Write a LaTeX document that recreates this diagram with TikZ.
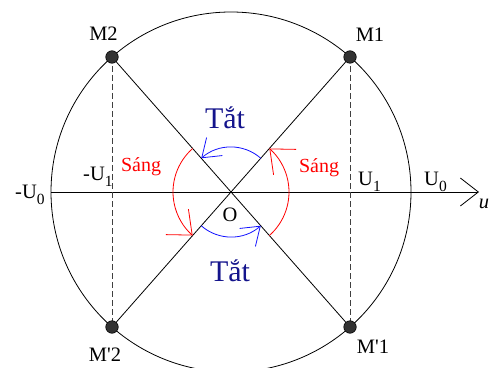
\documentclass[tikz,border=0pt]{standalone}
\usepackage{fontspec}
\setmainfont[Ligatures=TeXOff]{Liberation Serif}
\usetikzlibrary{arrows.meta,calc}
\newcommand{\lowsub}[1]{\raisebox{-0.32em}{\fontsize{15.5pt}{15.5pt}\selectfont #1}}
\definecolor{sangred}{RGB}{255,0,0}
\definecolor{arcblue}{RGB}{20,20,255}
\definecolor{tatblue}{RGB}{20,20,140}
\definecolor{dotgray}{RGB}{50,50,50}
\begin{document}
\begin{tikzpicture}[x=1pt,y=1pt,
  lbl/.style={font=\fontsize{20.5pt}{20.5pt}\selectfont, inner sep=0pt},
  thinline/.style={line width=0.8pt, black},
  dashline/.style={line width=0.8pt, black!75, dash pattern=on 6pt off 3pt},
  dotnode/.style={circle, draw=black, fill=dotgray, line width=0.6pt, minimum size=12.5pt, inner sep=0pt},
  redarc/.style={line width=0.8pt, sangred, -{Straight Barb[length=20pt,width=34pt,line width=0.8pt]}},
  bluearc/.style={line width=0.8pt, arcblue, -{Straight Barb[length=17pt,width=24pt,line width=0.8pt]}},
  sang/.style={font=\fontsize{20pt}{20pt}\selectfont, inner sep=0pt, text=sangred},
  tat/.style={font=\fontsize{30pt}{30pt}\selectfont, inner sep=0pt, text=tatblue}]
\useasboundingbox (0,0) rectangle (502,367);
\coordinate (O) at (231,175);
\coordinate (M1) at (350,310);
\coordinate (M2) at (112,310);
\coordinate (M1b) at (350,40);
\coordinate (M2b) at (112,40);
\coordinate (L) at (51,175);
\coordinate (R) at (479,175);
% circle
\begin{scope}
\clip (0,0) rectangle (502,367);
\draw[thinline] (O) circle[radius=180];
\end{scope}
% axis
\draw[thinline, -{Straight Barb[length=18pt,width=28pt,line width=0.8pt]}] (L) -- (R);
% diagonals
\draw[thinline] (M2) -- (M1b);
\draw[thinline] (M1) -- (M2b);
% dashed verticals
\draw[dashline] (M2) -- (M2b);
\draw[dashline] (M1) -- (M1b);
% dots
\node[dotnode] (dM1) at (M1) {};
\node[dotnode] (dM2) at (M2) {};
\node[dotnode] (dM1b) at (M1b) {};
\node[dotnode] (dM2b) at (M2b) {};
% arcs
\draw[redarc] ($(O)+(131.4:58)$) arc[start angle=131.4, end angle=228.6, radius=58];
\draw[redarc] ($(O)+(-48.6:58)$) arc[start angle=-48.6, end angle=48.6, radius=58];
\draw[bluearc] ($(O)+(48.6:45)$) arc[start angle=48.6, end angle=131.4, radius=45];
\draw[bluearc] ($(O)+(228.6:45)$) arc[start angle=228.6, end angle=311.4, radius=45];
% labels
\node[lbl] (tM2) at (103.5,333) {M2};
\node[lbl] (tM1) at (370,332) {M1};
\node[lbl] (tM2b) at (105,12) {M'2};
\node[lbl] (tM1b) at (373,20) {M'1};
\node[lbl, anchor=base west] (tU0m) at (15,169) {-U\lowsub{0}};
\node[lbl, anchor=base west] (tU1m) at (83,187) {-U\lowsub{1}};
\node[lbl, anchor=base west] (tU1) at (358,182) {U\lowsub{1}};
\node[lbl, anchor=base west] (tU0) at (424,182) {U\lowsub{0}};
\node[lbl] (tu) at (484,163) {\itshape u};
\node[lbl] (tO) at (230,152) {O};
\node[sang] (sL) at (141,200) {Sáng};
\node[sang] (sR) at (319,199) {Sáng};
\node[tat] (tT) at (225,249) {Tắt};
\node[tat] (tB) at (230,96) {Tắt};
\end{tikzpicture}
\end{document}
